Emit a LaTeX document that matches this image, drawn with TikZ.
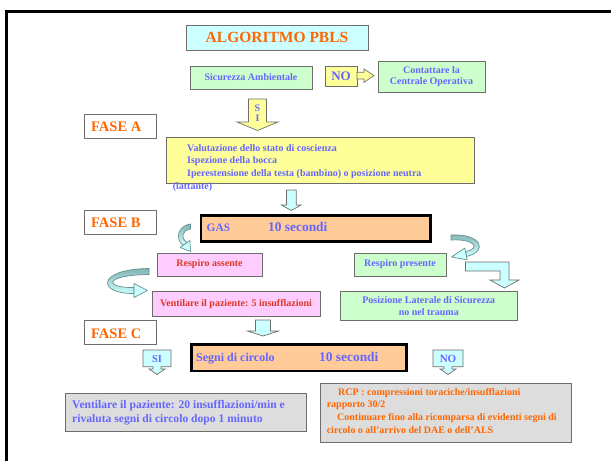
\documentclass[tikz,border=0pt]{standalone}
\usepackage{fontspec}
\setmainfont{Liberation Serif}
\definecolor{tblue}{RGB}{102,102,255}
\definecolor{torange}{RGB}{255,102,0}
\definecolor{tred}{RGB}{220,55,35}
\definecolor{fcyan}{RGB}{204,255,255}
\definecolor{fgreen}{RGB}{204,255,204}
\definecolor{fyellow}{RGB}{255,255,153}
\definecolor{forange}{RGB}{255,204,153}
\definecolor{fpink}{RGB}{255,204,255}
\definecolor{fgray}{RGB}{221,221,221}
\definecolor{bgray}{RGB}{110,110,110}
\definecolor{arrowline}{RGB}{100,145,145}
\definecolor{arrowdark}{RGB}{132,180,180}
\newcommand\myfs[2]{\fontsize{#1}{#2}\selectfont}
\begin{document}
\begin{tikzpicture}[x=1pt,y=-1pt,
  box/.style={draw=bgray, line width=0.8pt, inner sep=0pt, outer sep=0pt},
  thickbox/.style={draw=black, line width=2.6pt, fill=forange, inner sep=0pt, outer sep=0pt},
  tx/.style={font=\bfseries\myfs{10}{12}, inner sep=0pt, align=center},
  fase/.style={box, fill=white, minimum width=72pt, minimum height=24pt},
  fasetxt/.style={font=\bfseries\myfs{14.5}{16}, text=torange, inner sep=0pt, anchor=west},
  blockarrow/.style={draw=bgray, line width=0.7pt},
  curvband/.style={top color=arrowdark, bottom color=fcyan, draw=arrowline, line width=0.7pt},
  curvhead/.style={fill=fcyan, draw=arrowline, line width=0.7pt, line join=round}
]
\useasboundingbox (0,0) rectangle (611,461);
\fill[white] (0,0) rectangle (611,461);
% frame
\draw[line width=3pt] (6,461) -- (6,11.5) -- (611,11.5);

% title
\node[box, fill=fcyan, minimum width=182pt, minimum height=25pt, font=\bfseries\myfs{15.5}{17}, text=torange] (title) at (277,37.5) {ALGORITMO PBLS};

% sicurezza
\node[box, fill=fgreen, minimum width=122pt, minimum height=23pt, tx, text=tblue] (sic) at (251,77.5) {Sicurezza Ambientale};
\node[box, fill=fyellow, minimum width=32pt, minimum height=20pt, font=\bfseries\myfs{13}{14}, text=tblue] (no1) at (341,76) {NO};
\node[box, fill=fgreen, minimum width=107pt, minimum height=31pt, tx, font=\bfseries\myfs{10}{11.7}, text=tblue] (cont) at (431.5,76.5) {Contattare la\\Centrale Operativa};
\coordinate (no1tip) at (374,75.6);
\filldraw[fill=fyellow, blockarrow] (no1.east |- 0,72.3) -- (364,72.3) -- (364,69) -- (no1tip) -- (364,82.3) -- (364,79) -- (no1.east |- 0,79) -- cycle;

% SI yellow arrow
\filldraw[fill=fyellow, blockarrow] (248.5,99) -- (266.5,99) -- (266.5,122) -- (278,122) -- (257.5,130.5) -- (237,122) -- (248.5,122) -- cycle;
\node[tx, text=tblue] (siS) at (257.5,108) {S};
\node[tx, text=tblue] (siI) at (257.5,118.5) {I};

% FASE A
\node[fase] (faseA) at (120.8,126) {};
\node[fasetxt] (faseAt) at (91,126.6) {FASE A};

% yellow box
\node[box, fill=fyellow, minimum width=308pt, minimum height=45.6pt] (boxA) at (320,160.5) {};
\node[tx, text=tblue, anchor=base west] (a1) at (187,151) {Valutazione dello stato di coscienza};
\node[tx, text=tblue, anchor=base west] (a2) at (187,163.7) {Ispezione della bocca};
\node[tx, text=tblue, anchor=base west] (a3) at (187,176.3) {Iperestensione della testa (bambino) o posizione neutra};
\node[tx, text=tblue, anchor=base west] (a4) at (172.6,189) {(lattante)};

% cyan arrow A->B
\filldraw[fill=fcyan, blockarrow] (286.4,190) -- (296.2,190) -- (296.2,205) -- (301,205) -- (291.3,210.5) -- (281.5,205) -- (286.4,205) -- cycle;

% FASE B
\node[fase] (faseB) at (120.8,222.2) {};
\node[fasetxt] (faseBt) at (91,222.8) {FASE B};

% GAS
\node[thickbox, minimum width=229.5pt, minimum height=26pt] (gas) at (315.7,228.3) {};
\node[font=\bfseries\myfs{11.4}{13}, text=tblue, inner sep=0pt, anchor=base west] (gast) at (206.5,231.2) {GAS};
\node[font=\bfseries\myfs{13.4}{15}, text=tblue, inner sep=0pt, anchor=base west] (gass) at (268,231.5) {10 secondi};

% curved arrow 1 (GAS -> Respiro assente)
\coordinate (c1o) at (190.5,224);
\coordinate (c1i) at (190.5,229);
\shade[curvband] (c1o) .. controls (178.5,225.5) and (174.5,238) .. (183,245.5)
  -- (187,242.5) .. controls (180,237.5) and (182,230.5) .. (c1i) -- cycle;
\filldraw[curvhead] (180.1,247.5) -- (189.9,240.5) -- (190.5,251.5) -- cycle;

% curved arrow 2 (GAS -> Respiro presente)
\coordinate (c2o) at (451,235);
\coordinate (c2i) at (451,240);
\shade[curvband] (c2o) .. controls (481,233.5) and (489,251) .. (466.5,256.5)
  -- (465.5,251.5) .. controls (481,249) and (475,238.5) .. (c2i) -- cycle;
\filldraw[curvhead] (464.8,248.1) -- (467.2,259.9) -- (451.5,257) -- cycle;

% respiro boxes
\node[box, fill=fpink, minimum width=105pt, minimum height=23pt, tx, text=tred] (rass) at (209.5,264.5) {Respiro assente};
\node[box, fill=fgreen, minimum width=92pt, minimum height=23pt, tx, text=tblue] (rpre) at (400,264.5) {Respiro presente};

% curved arrow 3 (Respiro assente -> Ventilare)
\coordinate (c3o) at (149,268.5);
\coordinate (c3i) at (149,274.5);
\shade[curvband] (c3o) .. controls (96.5,269) and (96.5,294) .. (134,293.5)
  -- (134,287.5) .. controls (103.5,288) and (103.5,275) .. (c3i) -- cycle;
\filldraw[curvhead] (134,283.5) -- (134,297.5) -- (147.5,290.5) -- cycle;

% L arrow (Respiro presente -> Posizione)
\filldraw[fill=fcyan, blockarrow, line join=miter] (465.5,262) -- (509,262) -- (509,280) -- (519,280) -- (504.5,288) -- (490,280) -- (500,280) -- (500,271) -- (465.5,271) -- cycle;

% ventilare 5 and posizione
\node[box, fill=fpink, minimum width=168pt, minimum height=24.3pt, tx, text=tred] (vent5) at (236,303.8) {Ventilare il paziente: 5 insufflazioni};
\node[box, fill=fgreen, minimum width=177.5pt, minimum height=28.3pt, tx, font=\bfseries\myfs{10}{12.3}, text=tblue] (pls) at (428.8,306) {Posizione Laterale di Sicurezza\\no nel trauma};

% cyan arrow -> Segni
\filldraw[fill=fcyan, blockarrow] (255.5,320) -- (270.5,320) -- (270.5,331) -- (278.5,331) -- (263,336) -- (247.5,331) -- (255.5,331) -- cycle;

% FASE C
\node[fase] (faseC) at (120.8,332.8) {};
\node[fasetxt] (faseCt) at (91,333.4) {FASE C};

% Segni di circolo
\node[thickbox, minimum width=215.5pt, minimum height=26.7pt] (segni) at (299,357.7) {};
\node[font=\bfseries\myfs{12}{14}, text=tblue, inner sep=0pt, anchor=base west] (segt) at (196,361) {Segni di circolo};
\node[font=\bfseries\myfs{13.4}{15}, text=tblue, inner sep=0pt, anchor=base west] (segs) at (319,361.3) {10 secondi};

% SI / NO callouts
\filldraw[fill=fcyan, blockarrow] (143,350) -- (171,350) -- (171,366.7) -- (161,366.7) -- (161,369) -- (165,369) -- (157,374.5) -- (149,369) -- (153,369) -- (153,366.7) -- (143,366.7) -- cycle;
\node[font=\bfseries\myfs{10.5}{12}, text=tblue, inner sep=0pt] (sit) at (157,358.6) {SI};
\filldraw[fill=fcyan, blockarrow] (433,350) -- (463,350) -- (463,366.7) -- (452,366.7) -- (452,369) -- (456,369) -- (448,374.5) -- (440,369) -- (444,369) -- (444,366.7) -- (433,366.7) -- cycle;
\node[font=\bfseries\myfs{11}{12}, text=tblue, inner sep=0pt] (not) at (448,358.6) {NO};

% bottom boxes
\node[box, fill=fgray, minimum width=241.7pt, minimum height=38.4pt] (vent20) at (185.8,412.5) {};
\node[font=\bfseries\myfs{11.6}{14}, text=tblue, inner sep=0pt, anchor=base west] (v20a) at (72,408) {Ventilare il paziente: 20 insufflazioni/min e};
\node[font=\bfseries\myfs{11.6}{14}, text=tblue, inner sep=0pt, anchor=base west] (v20b) at (72,422) {rivaluta segni di circolo dopo 1 minuto};

\node[box, fill=fgray, minimum width=251pt, minimum height=59pt] (rcp) at (445.5,412.8) {};
\node[tx, text=torange, anchor=base west] (r1) at (338,395) {RCP : compressioni toraciche/insufflazioni};
\node[tx, text=torange, anchor=base west] (r2) at (326.6,407.8) {rapporto 30/2};
\node[tx, text=torange, anchor=base west] (r3) at (337,420.6) {Continuare fino alla ricomparsa di evidenti segni di};
\node[tx, text=torange, anchor=base west] (r4) at (326.6,433) {circolo o all’arrivo del DAE o dell’ALS};
\end{tikzpicture}
\end{document}
